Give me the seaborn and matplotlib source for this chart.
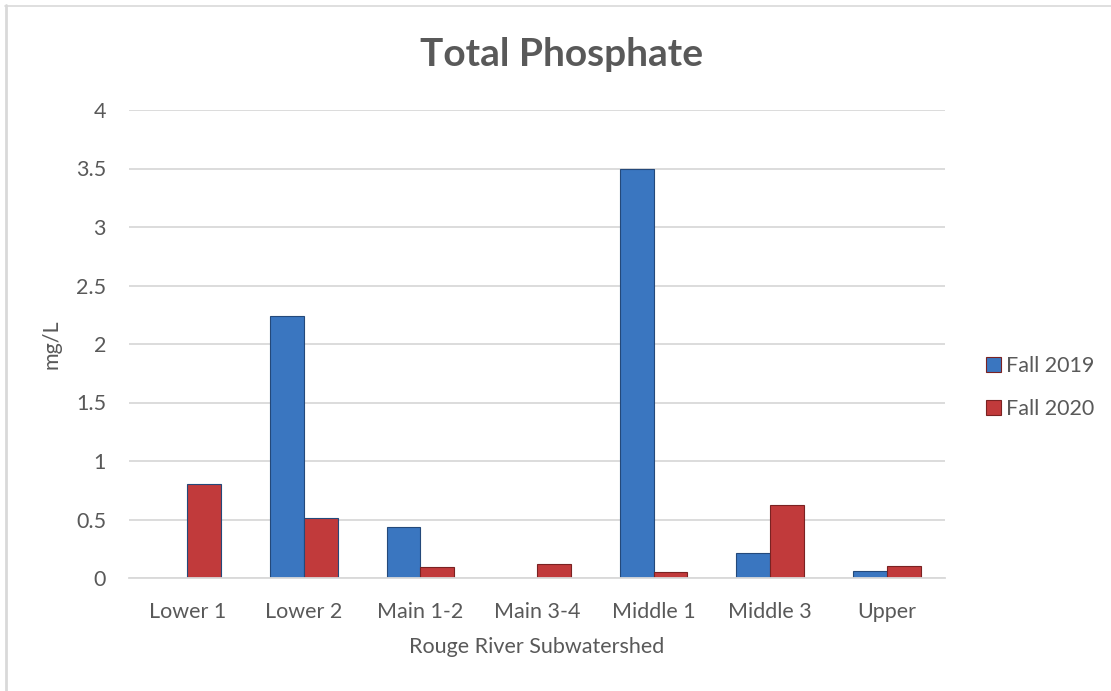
import numpy as np
import pandas as pd
import matplotlib
matplotlib.use('Agg')
import matplotlib.pyplot as plt
from matplotlib.lines import Line2D
import seaborn as sns

# values (mg/L)
subwatersheds = ['Lower 1', 'Lower 2', 'Main 1-2', 'Main 3-4', 'Middle 1', 'Middle 3', 'Upper']
fall_2019 = [np.nan, 2.24, 0.44, np.nan, 3.50, 0.21, 0.06]
fall_2020 = [0.80, 0.51, 0.09, 0.12, 0.05, 0.62, 0.10]
seasons = ['Fall 2019', 'Fall 2020']
y_ticks = [0, 0.5, 1, 1.5, 2, 2.5, 3, 3.5, 4]

df = pd.DataFrame({
    'Subwatershed': subwatersheds * 2,
    'Season': [seasons[0]] * len(subwatersheds) + [seasons[1]] * len(subwatersheds),
    'mg/L': fall_2019 + fall_2020,
})

sns.set_theme(style='white')
plt.rcParams['font.family'] = ['Lato', 'DejaVu Sans']
TXT = '#595959'
GRID = '#d9d9d9'
FS = 15.5

fig = plt.figure(figsize=(11.11, 6.91), dpi=100)
# chart frame: only left and top edges fall inside the picture
fig.add_artist(Line2D([6 / 1111, 6 / 1111], [0, 1 - 5 / 691], color=GRID, lw=2))
fig.add_artist(Line2D([5 / 1111, 1], [1 - 6 / 691, 1 - 6 / 691], color=GRID, lw=1.2))

ax = fig.add_axes([129 / 1111, 1 - 578 / 691, (945 - 129) / 1111, (578 - 110) / 691])

palette = {'Fall 2019': '#3a76c0', 'Fall 2020': '#c13a3b'}
sns.barplot(data=df, x='Subwatershed', y='mg/L', hue='Season', hue_order=seasons,
            order=subwatersheds, palette=palette, width=0.58, gap=0,
            saturation=1, ax=ax, legend=True)

for p, s in zip(ax.patches, [s for s in seasons for _ in subwatersheds]):
    p.set_edgecolor('#24497a' if s == 'Fall 2019' else '#7a2222')
    p.set_linewidth(0.8)

ax.set_ylim(0, 4)
ax.set_yticks(y_ticks)
ax.set_yticklabels([f'{t:g}' for t in y_ticks])
ax.yaxis.grid(True, color=GRID, linewidth=1.3)
ax.set_axisbelow(True)
for side in ['left', 'right', 'top']:
    ax.spines[side].set_visible(False)
ax.spines['bottom'].set_color(GRID)
ax.spines['bottom'].set_linewidth(1.3)
ax.tick_params(axis='both', length=0, labelsize=FS, colors=TXT)
ax.tick_params(axis='x', pad=17)
ax.tick_params(axis='y', pad=16.5)

ax.set_xlabel('Rouge River Subwatershed', fontsize=FS, color=TXT, labelpad=11)
ax.set_ylabel('mg/L', fontsize=FS, color=TXT, labelpad=10)
fig.text(562 / 1111, 1 - 55 / 691, 'Total Phosphate', fontsize=28, fontweight='bold',
         color=TXT, ha='center', va='center')

ax.legend(loc='center left', bbox_to_anchor=(1.050, 0.407), frameon=False,
          borderaxespad=0, borderpad=0,
          fontsize=FS, labelcolor=TXT, handlelength=0.7, handleheight=0.7,
          handletextpad=0.25, labelspacing=1.1)

fig.savefig('out.png', dpi=100)
